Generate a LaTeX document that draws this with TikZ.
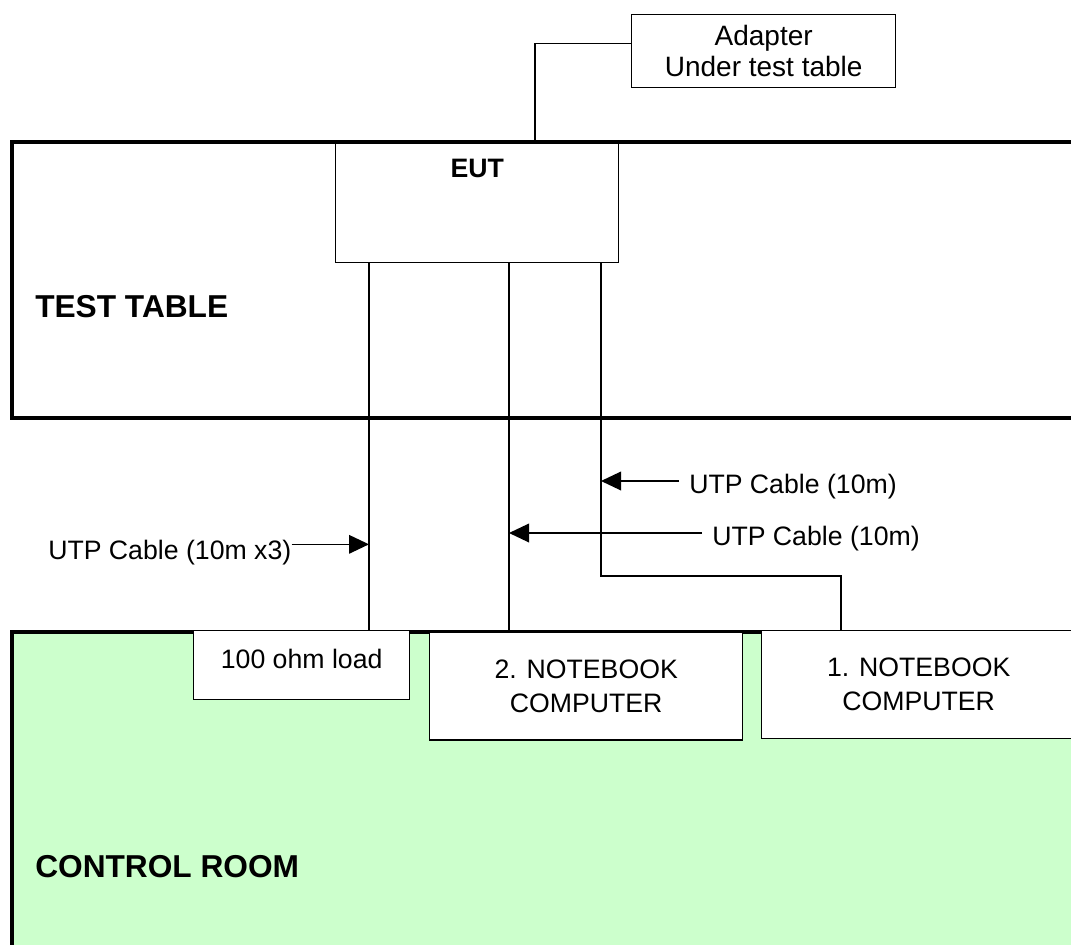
\documentclass[tikz,border=0pt]{standalone}
\usepackage{fontspec}
\setmainfont{Liberation Sans}
\usetikzlibrary{arrows.meta, positioning, calc}
\definecolor{roomgreen}{HTML}{CCFFCC}

\begin{document}
\begin{tikzpicture}[
  x=0.75pt, y=-0.75pt,
  box/.style={draw, line width=1pt, fill=white, inner sep=0pt, align=center, anchor=north west, font=\fontsize{20}{25.5}\selectfont},
  area/.style={line width=3pt},
  cable/.style={line width=2pt},
  wire/.style={line width=1pt},
  arrow/.style={-{Triangle[length=15pt, width=14pt]}, line width=1pt},
  tag/.style={inner ysep=0pt, inner xsep=7.5pt, text height=18pt, text depth=0pt, anchor=base west, font=\fontsize{20}{25}\selectfont},
  title/.style={inner sep=0pt, anchor=base west, font=\fontsize{23.75}{28}\selectfont\bfseries}
]
\useasboundingbox (0,0) rectangle (1071,945);
\clip (0,0) rectangle (1071,945);

% control room
\draw[area, fill=roomgreen] (12,632) rectangle (1100,1000);
\node[title] (room) at (35,877) {CONTROL ROOM};

\node[box, minimum width=162pt, text height=28.5pt, text depth=23.25pt] (load) at (193,630) {100 ohm load};
\node[box, minimum width=234.75pt, minimum height=80.5pt] (nb2) at (429,632) {2. NOTEBOOK\\COMPUTER};
\node[box, minimum width=235.5pt, minimum height=81pt] (nb1) at (761,630) {1. NOTEBOOK\\COMPUTER};

% test table
\node[box, minimum width=212.25pt, text height=27pt, text depth=63.75pt, font=\fontsize{20}{24}\selectfont\bfseries] (eut) at (335,141) {EUT};
\draw[area] (1100,142) -- (12,142) -- (12,418) -- (1100,418);
\node[title] (table) at (35,317) {TEST TABLE};

\node[box, minimum width=198pt, minimum height=54.75pt, font=\fontsize{21}{23.25}\selectfont] (adapter) at (631,14) {Adapter\\Under test table};

% cables
\coordinate (c1) at (369,0);
\coordinate (c2) at (509,0);
\coordinate (c3) at (601,0);
\coordinate (link) at (535,0);
\coordinate (bend) at (841,576);

\draw[wire] (eut.north -| link) |- ($(adapter.north west)!0.4!(adapter.south west)$);
\draw[cable] (eut.south -| c1) -- (load.north -| c1);
\draw[cable] (eut.south -| c2) -- (nb2.north -| c2);
\draw[cable] (eut.south -| c3) |- (bend) -- (nb1.north -| bend);

% labels
\node[tag] (utp1) at (679,493) {UTP Cable (10m)};
\node[tag] (utp2) at (702,545) {UTP Cable (10m)};
\node[tag, inner xsep=0pt, text height=22pt] (utp3) at (48,559) {UTP Cable (10m x3)};

\draw[arrow] (utp1.west) -- (utp1.west -| c3);
\draw[arrow] (utp2.west) -- (utp2.west -| c2);
\draw[arrow] (utp3.east) -- (utp3.east -| c1);
\end{tikzpicture}
\end{document}
